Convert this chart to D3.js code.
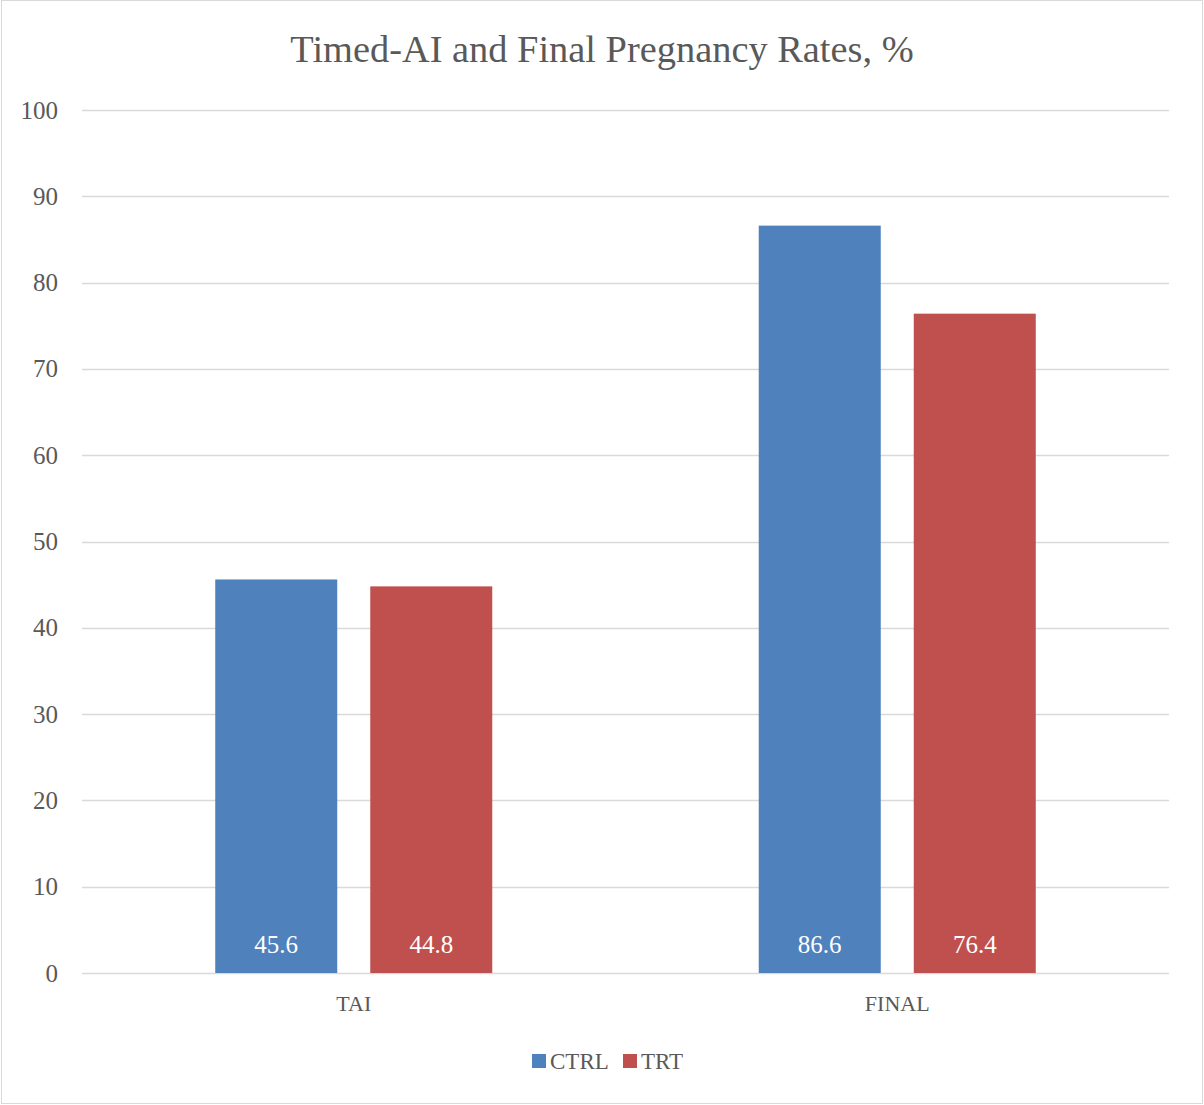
<!DOCTYPE html>
<html>
<head>
<meta charset="utf-8">
<script src="https://cdn.jsdelivr.net/npm/d3@7"></script>
<style>
  html, body { margin: 0; padding: 0; background: #fff; }
  svg { display: block; }
  text { font-family: "Liberation Serif", "DejaVu Serif", serif; }
</style>
</head>
<body>
<svg id="chart" width="1204" height="1105"></svg>
<script>
// Pregnancy rates (%) by breeding stage and group
const categories = ["TAI", "FINAL"];
const seriesNames = ["CTRL", "TRT"];
const ctrlValues = [45.6, 86.6];
const trtValues = [44.8, 76.4];
const yTicks = [0, 10, 20, 30, 40, 50, 60, 70, 80, 90, 100];
const seriesColors = ["#4f81bd", "#c0504d"];

const seriesValues = [ctrlValues, trtValues];
const rows = categories.map((c, i) => ({
  category: c,
  values: seriesNames.map((s, j) => ({ series: s, value: seriesValues[j][i], color: seriesColors[j] }))
}));

const svg = d3.select("#chart");
const W = 1204, H = 1105;
const plot = { left: 82, right: 1169, top: 110, bottom: 973 };

// outer frame
svg.append("rect")
  .attr("x", 1.5).attr("y", 0.5).attr("width", W - 3).attr("height", H - 2)
  .attr("fill", "#fff").attr("stroke", "#d9d9d9").attr("stroke-width", 1);

const x = d3.scaleBand().domain(categories).range([plot.left, plot.right]);
const y = d3.scaleLinear().domain([0, 100]).range([plot.bottom, plot.top]);

// inner band for the two bars of a group
const groupWidth = x.bandwidth() * 0.5097;
const x1 = d3.scaleBand().domain(seriesNames)
  .range([(x.bandwidth() - groupWidth) / 2, (x.bandwidth() + groupWidth) / 2])
  .paddingInner(0.213);

// gridlines
svg.append("g")
  .selectAll("line")
  .data(yTicks)
  .join("line")
  .attr("x1", plot.left).attr("x2", plot.right)
  .attr("y1", d => Math.round(y(d)) + 0.5).attr("y2", d => Math.round(y(d)) + 0.5)
  .attr("stroke", "#d9d9d9").attr("stroke-width", 1.3);

// y axis labels
const yAxis = d3.axisLeft(y).tickValues(yTicks).tickSize(0).tickPadding(24);
const yg = svg.append("g").attr("transform", `translate(${plot.left},0)`).call(yAxis);
yg.select(".domain").remove();
yg.selectAll("text")
  .attr("fill", "#595959").attr("font-size", 25)
  .style("font-family", "'Liberation Serif', serif");

// bars
const groups = svg.append("g")
  .selectAll("g")
  .data(rows)
  .join("g")
  .attr("transform", d => `translate(${x(d.category)},0)`);

groups.selectAll("rect")
  .data(d => d.values)
  .join("rect")
  .attr("x", d => x1(d.series))
  .attr("width", x1.bandwidth())
  .attr("y", d => y(d.value))
  .attr("height", d => y(0) - y(d.value))
  .attr("fill", d => d.color);

groups.selectAll("text.val")
  .data(d => d.values)
  .join("text")
  .attr("class", "val")
  .attr("x", d => x1(d.series) + x1.bandwidth() / 2)
  .attr("y", y(0) - 20)
  .attr("text-anchor", "middle")
  .attr("fill", "#fff")
  .attr("font-size", 25)
  .text(d => d.value.toFixed(1));

// x axis labels
const xAxis = d3.axisBottom(x).tickSize(0).tickPadding(22);
const xg = svg.append("g").attr("transform", `translate(0,${plot.bottom})`).call(xAxis);
xg.select(".domain").remove();
xg.selectAll("text")
  .attr("fill", "#595959").attr("font-size", 22)
  .style("font-family", "'Liberation Serif', serif");

// title
svg.append("text")
  .attr("x", 602).attr("y", 62)
  .attr("text-anchor", "middle")
  .attr("fill", "#595959")
  .attr("font-size", 38.4)
  .text("Timed-AI and Final Pregnancy Rates, %");

// legend
const legend = svg.append("g").attr("transform", "translate(532,1061)");
const legendItems = [
  { name: seriesNames[0], color: seriesColors[0], dx: 0 },
  { name: seriesNames[1], color: seriesColors[1], dx: 91 }
];
const li = legend.selectAll("g").data(legendItems).join("g")
  .attr("transform", d => `translate(${d.dx},0)`);
li.append("rect").attr("x", 0).attr("y", -7).attr("width", 14).attr("height", 14)
  .attr("fill", d => d.color);
li.append("text").attr("x", 18).attr("y", 8)
  .attr("fill", "#595959").attr("font-size", 23)
  .text(d => d.name);
</script>
</body>
</html>
